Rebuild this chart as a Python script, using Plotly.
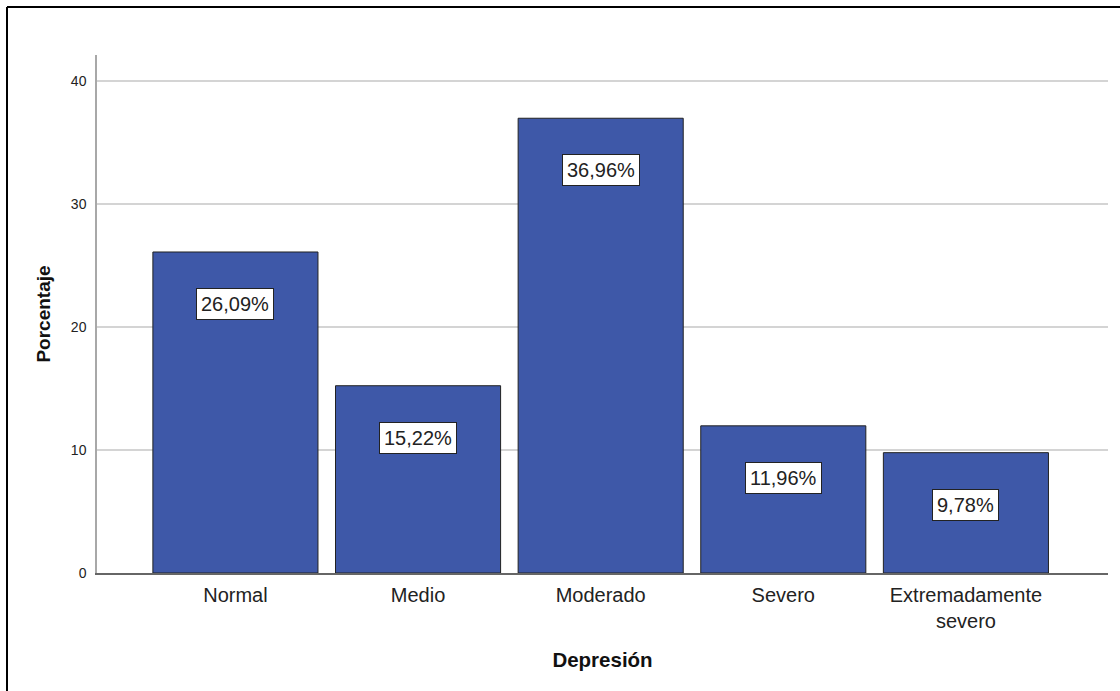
import plotly.graph_objects as go

categories = ["Normal", "Medio", "Moderado", "Severo", "Extremadamente<br>severo"]
percentages = [26.09, 15.22, 36.96, 11.96, 9.78]
label_texts = ["26,09%", "15,22%", "36,96%", "11,96%", "9,78%"]
y_ticks = [0, 10, 20, 30, 40]

FONT = "Liberation Sans, Arial, sans-serif"
W, H = 1120, 691
L, R, T, B = 97, 12, 55, 118

fig = go.Figure()
fig.add_trace(go.Bar(
    x=list(range(len(categories))),
    y=percentages,
    marker=dict(color="#3E58A8", line=dict(color="#222222", width=1)),
    width=0.904,
    hoverinfo="skip",
))

for i, (v, t) in enumerate(zip(percentages, label_texts)):
    fig.add_annotation(
        x=i, y=v, xref="x", yref="y", text=t, showarrow=False,
        yshift=-52, yanchor="middle",
        font=dict(family=FONT, size=20, color="#222222"),
        bgcolor="white", bordercolor="#222222", borderwidth=1, borderpad=4,
    )

# outer frame (left and top edges visible)
fy = (H - B - 7) / (H - T - B)
fx = (7 - L) / (W - L - R)
fig.add_shape(type="line", xref="paper", yref="paper",
              x0=fx, x1=1.2, y0=fy, y1=fy,
              line=dict(color="black", width=2))
fig.add_shape(type="line", xref="paper", yref="paper",
              x0=fx, x1=fx, y0=-0.5, y1=fy,
              line=dict(color="black", width=2))

fig.update_layout(
    width=W, height=H,
    margin=dict(l=L, r=R, t=T, b=B),
    paper_bgcolor="white", plot_bgcolor="white",
    showlegend=False,
    bargap=0.096,
    font=dict(family=FONT, color="#222222"),
    xaxis=dict(
        range=[-0.758, 4.778],
        tickmode="array",
        tickvals=list(range(len(categories))),
        ticktext=categories,
        tickfont=dict(family=FONT, size=20, color="#222222"),
        showgrid=False,
        showline=True, linecolor="#666666", linewidth=1.5,
        ticks="outside", ticklen=3, tickcolor="rgba(0,0,0,0)",
        title=dict(text="<b>Depresión</b>", font=dict(family=FONT, size=20.5, color="#111111"), standoff=22),
        zeroline=False,
    ),
    yaxis=dict(
        range=[0, 42.1],
        tickmode="array",
        tickvals=y_ticks,
        ticktext=[str(v) for v in y_ticks],
        tickfont=dict(family=FONT, size=14, color="#222222"),
        showgrid=True, gridcolor="#d4d4d4", gridwidth=1.5,
        showline=True, linecolor="#a8a8a8", linewidth=1.5,
        ticks="outside", ticklen=6, tickcolor="rgba(0,0,0,0)",
        title=dict(text="<b>Porcentaje</b>", font=dict(family=FONT, size=19, color="#111111"), standoff=15),
        zeroline=False,
    ),
)

fig.write_html("out.html")
